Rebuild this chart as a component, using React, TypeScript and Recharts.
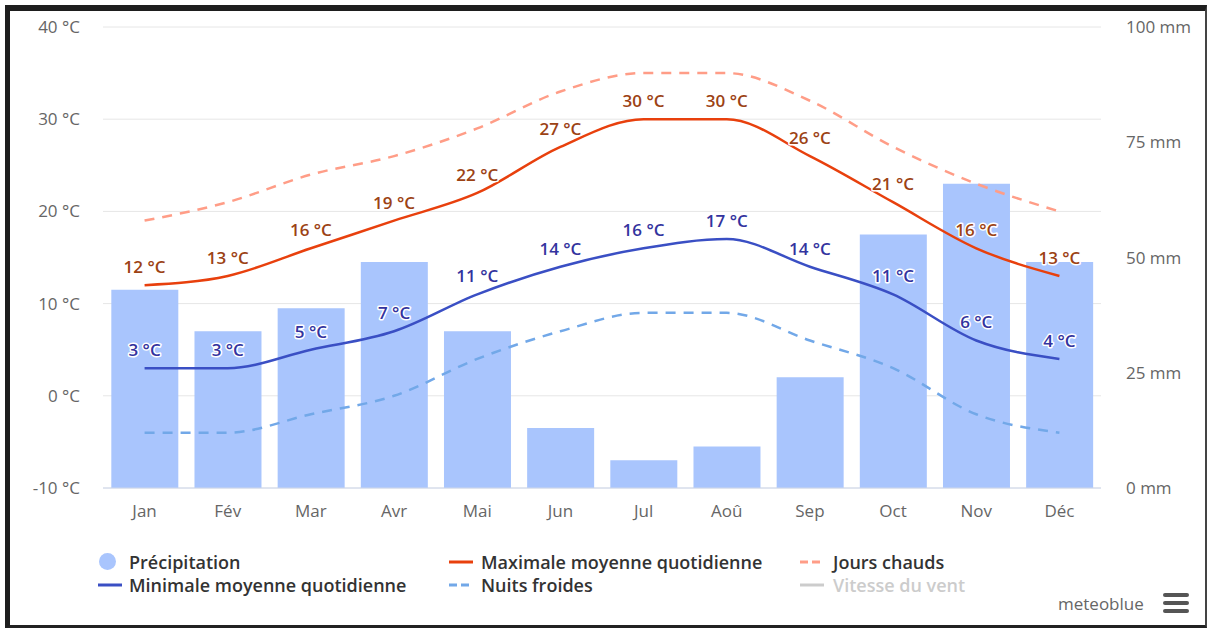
import React from 'react';
import { ComposedChart, Bar, Line, XAxis, YAxis, CartesianGrid, LabelList } from 'recharts';

const months = ['Jan', 'Fév', 'Mar', 'Avr', 'Mai', 'Jun', 'Jul', 'Aoû', 'Sep', 'Oct', 'Nov', 'Déc'];
const precipitation = [43, 34, 39, 49, 34, 13, 6, 9, 24, 55, 66, 49];
const maxTemp = [12, 13, 16, 19, 22, 27, 30, 30, 26, 21, 16, 13];
const minTemp = [3, 3, 5, 7, 11, 14, 16, 17, 14, 11, 6, 4];
const hotDays = [19, 21, 24, 26, 29, 33, 35, 35, 32, 27, 23, 20];
const coldNights = [-4, -4, -2, 0, 4, 7, 9, 9, 6, 3, -2, -4];
const tempTicks = [-10, 0, 10, 20, 30, 40];
const precipTicks = [0, 25, 50, 75, 100];

const data = months.map((m, i) => ({
  month: m,
  precip: precipitation[i],
  max: maxTemp[i],
  min: minTemp[i],
  hot: hotDays[i],
  cold: coldNights[i],
}));

const FONT = '"Open Sans", sans-serif';
const C_BAR = '#a9c5fd';
const C_MAX = '#e8400d';
const C_MIN = '#3a4fc4';
const C_HOT = '#ff9d87';
const C_COLD = '#72a8e8';

const makeLabel = (color: string) => (props: any) => {
  const { x, y, value } = props;
  return (
    <text
      x={x}
      y={y - 12}
      textAnchor="middle"
      fill={color}
      stroke="#fff"
      strokeWidth={3}
      strokeLinejoin="round"
      paintOrder="stroke"
      fontSize={17}
      fontWeight={600}
      fontFamily={FONT}
    >
      {`${value} °C`}
    </text>
  );
};

const tickStyle = { fill: '#666', fontSize: 17, fontFamily: FONT };

const legendText: React.CSSProperties = {
  position: 'absolute',
  fontFamily: FONT,
  fontSize: 18,
  fontWeight: 600,
  color: '#333',
  lineHeight: '20px',
  whiteSpace: 'nowrap',
};

const LineSym = ({ x, y, color, dashed }: { x: number; y: number; color: string; dashed?: boolean }) => (
  <svg style={{ position: 'absolute', left: x, top: y - 3 }} width={28} height={6}>
    <line x1={0} y1={3} x2={24} y2={3} stroke={color} strokeWidth={3} strokeDasharray={dashed ? '8 4' : undefined} />
  </svg>
);

export default function App() {
  return (
    <div style={{ position: 'absolute', left: 0, top: 0, width: 1210, height: 628, background: '#fff', overflow: 'hidden' }}>
      <div style={{ position: 'absolute', left: 0, top: 0 }}>
        <ComposedChart
          width={1210}
          height={628}
          data={data}
          margin={{ top: 27, right: 0, left: 0, bottom: 110 }}
          barCategoryGap="10%"
        >
          <CartesianGrid yAxisId="left" vertical={false} stroke="#e6e6e6" strokeWidth={1} />
          <XAxis
            dataKey="month"
            axisLine={{ stroke: '#ccd6eb' }}
            tickLine={false}
            tickSize={0}
            tickMargin={17}
            height={30}
            tick={tickStyle}
            interval={0}
          />
          <YAxis
            yAxisId="left"
            orientation="left"
            width={103}
            domain={[-10, 40]}
            ticks={tempTicks}
            axisLine={false}
            tickLine={false}
            tickSize={0}
            tickMargin={23}
            tick={tickStyle}
            tickFormatter={(v: number) => `${v} °C`}
          />
          <YAxis
            yAxisId="right"
            orientation="right"
            width={109}
            domain={[0, 100]}
            ticks={precipTicks}
            axisLine={false}
            tickLine={false}
            tickSize={0}
            tickMargin={25}
            tick={{ ...tickStyle, textAnchor: 'start' }}
            tickFormatter={(v: number) => `${v} mm`}
          />
          <Bar yAxisId="right" dataKey="precip" fill={C_BAR} isAnimationActive={false} />
          <Line
            yAxisId="left"
            type="monotone"
            dataKey="cold"
            stroke={C_COLD}
            strokeWidth={2.5}
            strokeDasharray="10 8"
            dot={false}
            activeDot={false}
            isAnimationActive={false}
          />
          <Line
            yAxisId="left"
            type="monotone"
            dataKey="hot"
            stroke={C_HOT}
            strokeWidth={2.5}
            strokeDasharray="10 8"
            dot={false}
            activeDot={false}
            isAnimationActive={false}
          />
          <Line
            yAxisId="left"
            type="monotone"
            dataKey="min"
            stroke={C_MIN}
            strokeWidth={2.5}
            dot={false}
            activeDot={false}
            isAnimationActive={false}
          >
            <LabelList dataKey="min" content={makeLabel('#33339e')} />
          </Line>
          <Line
            yAxisId="left"
            type="monotone"
            dataKey="max"
            stroke={C_MAX}
            strokeWidth={2.5}
            dot={false}
            activeDot={false}
            isAnimationActive={false}
          >
            <LabelList dataKey="max" content={makeLabel('#9c4214')} />
          </Line>
        </ComposedChart>
      </div>

      {/* Legend */}
      <div style={{ position: 'absolute', left: 99, top: 553, width: 17, height: 17, borderRadius: '50%', background: C_BAR }} />
      <div style={{ ...legendText, left: 129, top: 552 }}>Précipitation</div>
      <LineSym x={449} y={562} color={C_MAX} />
      <div style={{ ...legendText, left: 481, top: 552 }}>Maximale moyenne quotidienne</div>
      <LineSym x={800} y={562} color={C_HOT} dashed />
      <div style={{ ...legendText, left: 833, top: 552 }}>Jours chauds</div>
      <LineSym x={98} y={585} color={C_MIN} />
      <div style={{ ...legendText, left: 129, top: 575 }}>Minimale moyenne quotidienne</div>
      <LineSym x={449} y={585} color={C_COLD} dashed />
      <div style={{ ...legendText, left: 481, top: 575 }}>Nuits froides</div>
      <LineSym x={800} y={585} color="#cccccc" />
      <div style={{ ...legendText, left: 833, top: 575, color: '#cccccc' }}>Vitesse du vent</div>

      {/* Credits + menu */}
      <div style={{ position: 'absolute', left: 1058, top: 594, fontFamily: FONT, fontSize: 17, color: '#666', lineHeight: '20px' }}>
        meteoblue
      </div>
      <div style={{ position: 'absolute', left: 1163, top: 593, width: 26, height: 4, borderRadius: 2, background: '#555' }} />
      <div style={{ position: 'absolute', left: 1163, top: 601, width: 26, height: 4, borderRadius: 2, background: '#555' }} />
      <div style={{ position: 'absolute', left: 1163, top: 609, width: 26, height: 4, borderRadius: 2, background: '#555' }} />

      {/* Frame */}
      <div
        style={{
          position: 'absolute',
          left: 5,
          top: 5,
          width: 1202,
          height: 623,
          boxSizing: 'border-box',
          borderTop: '6px solid #1e1e1e',
          borderLeft: '5px solid #1e1e1e',
          borderRight: '2px solid #444',
          borderBottom: '3px solid #222',
          pointerEvents: 'none',
        }}
      />
    </div>
  );
}
